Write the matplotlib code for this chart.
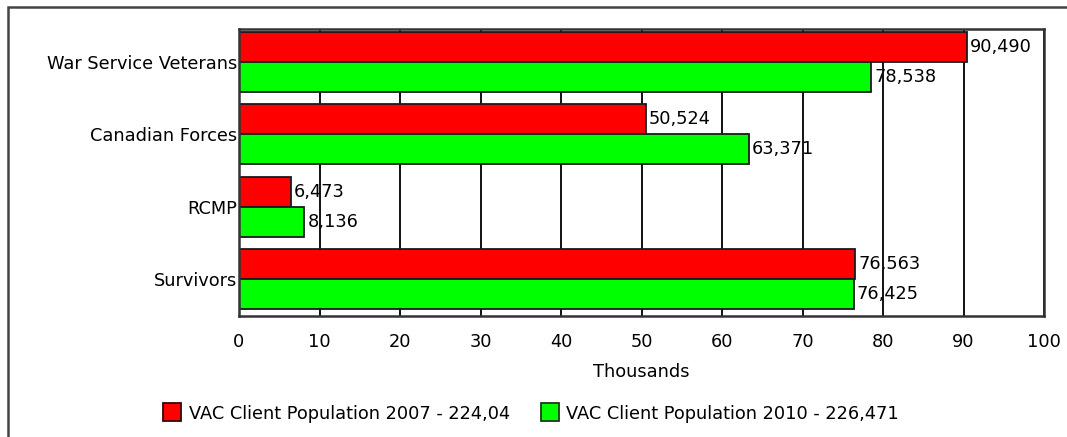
import matplotlib
matplotlib.use("Agg")
import matplotlib.pyplot as plt
from matplotlib.patches import Rectangle
import numpy as np

categories = ["War Service Veterans", "Canadian Forces", "RCMP", "Survivors"]
pop_2007 = [90490, 50524, 6473, 76563]
pop_2010 = [78538, 63371, 8136, 76425]
label_2007 = "VAC Client Population 2007 - 224,04"
label_2010 = "VAC Client Population 2010 - 226,471"
xticks = [0, 10, 20, 30, 40, 50, 60, 70, 80, 90, 100]

W, H = 1067, 437
fig = plt.figure(figsize=(W / 100, H / 100), dpi=100)
plt.rcParams['font.family'] = ['DejaVu Sans']
FS = 12.8

def fx(px):
    return px / W

def fy(py):
    return 1 - py / H

# outer frame
fig.add_artist(Rectangle((fx(8), -0.05), 1.1, fy(7) + 0.05, transform=fig.transFigure,
                         fill=False, edgecolor="#444444", linewidth=1.8))

ax = fig.add_axes([fx(239), fy(316), fx(1044) - fx(239), fy(29) - fy(316)])
y = np.arange(len(categories))
h = 0.415
v07 = np.array(pop_2007) / 1000
v10 = np.array(pop_2010) / 1000
ax.barh(y - h / 2, v07, height=h, color="#FF0000", edgecolor="#1a1a1a", linewidth=1.3, zorder=3)
ax.barh(y + h / 2, v10, height=h, color="#00FF00", edgecolor="#1a1a1a", linewidth=1.3, zorder=3)

for yi, val, raw in zip(y - h / 2, v07, pop_2007):
    ax.annotate(f"{raw:,}", (val, yi), xytext=(2, 0), textcoords="offset points",
                va="center", ha="left", fontsize=FS, zorder=1)
for yi, val, raw in zip(y + h / 2, v10, pop_2010):
    ax.annotate(f"{raw:,}", (val, yi), xytext=(2, 0), textcoords="offset points",
                va="center", ha="left", fontsize=FS, zorder=1)

ax.set_xlim(0, 100)
ax.set_ylim(3.512, -0.456)
ax.set_xticks(xticks)
ax.set_xticklabels([str(t) for t in xticks], fontsize=FS)
ax.set_yticks(y)
ax.set_yticklabels(categories, fontsize=FS)
ax.tick_params(axis="x", length=0, pad=12)
ax.tick_params(axis="y", length=0, pad=1)
ax.xaxis.grid(True, color="#111111", linewidth=1.4)
ax.set_axisbelow(False)
for s in ax.spines.values():
    s.set_color("#333333")
    s.set_linewidth(1.8)
    s.set_zorder(4)
ax.set_xlabel("Thousands", fontsize=FS, labelpad=9)

# legend
fig.add_artist(Rectangle((fx(163), fy(421)), fx(181) - fx(163), fy(403) - fy(421),
                         transform=fig.transFigure, facecolor="#FF0000", edgecolor="#3a0000", linewidth=1.3))
fig.text(fx(189), fy(414), label_2007, fontsize=FS, va="center", ha="left")
fig.add_artist(Rectangle((fx(541), fy(421)), fx(559) - fx(541), fy(403) - fy(421),
                         transform=fig.transFigure, facecolor="#00FF00", edgecolor="#1a3a1a", linewidth=1.3, zorder=5))
fig.text(fx(566), fy(414), label_2010, fontsize=FS, va="center", ha="left")

fig.savefig("out.png", dpi=100)
